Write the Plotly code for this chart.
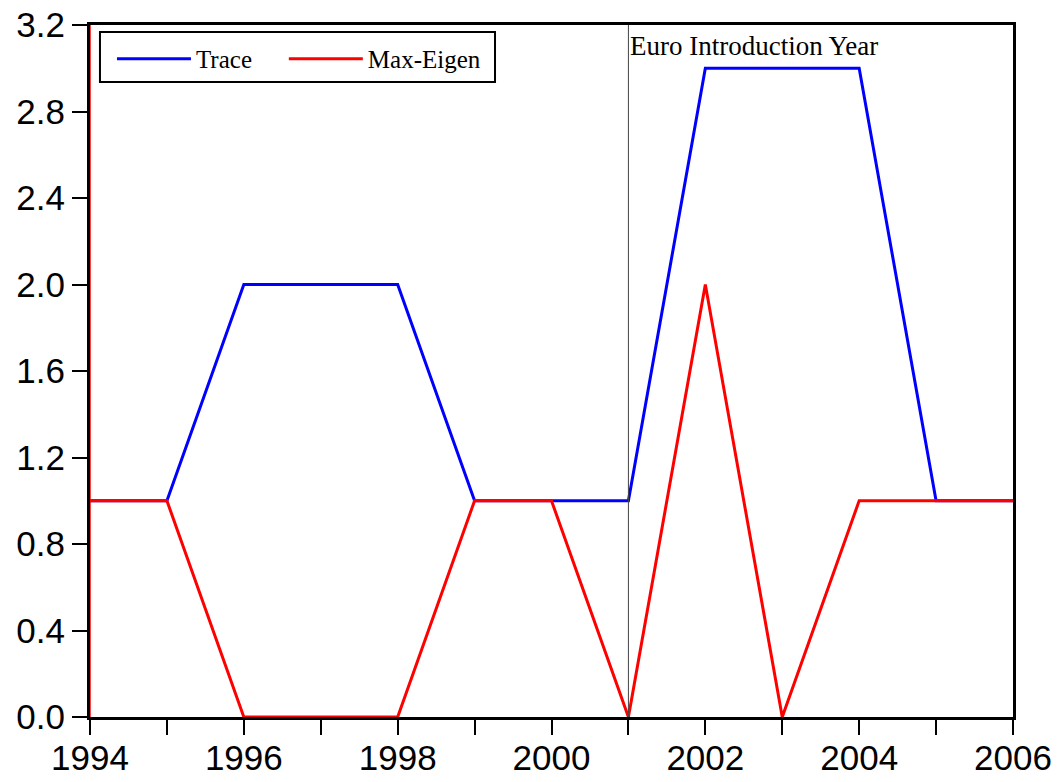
import plotly.graph_objects as go

years = list(range(1994, 2007))
trace_vals = [1, 1, 2, 2, 2, 1, 1, 1, 3, 3, 3, 1, 1]
maxeigen_vals = [1, 1, 0, 0, 0, 1, 1, 0, 2, 0, 1, 1, 1]
x_tickvals = [1994, 1996, 1998, 2000, 2002, 2004, 2006]
y_tickvals = [0.0, 0.4, 0.8, 1.2, 1.6, 2.0, 2.4, 2.8, 3.2]
euro_year = 2001

serif = "Liberation Serif, Times New Roman, serif"
sans = "Liberation Sans, Arial, sans-serif"

fig = go.Figure()
fig.add_trace(go.Scatter(x=years, y=trace_vals, mode="lines", name="Trace",
                         line=dict(color="#0000ff", width=3), legend="legend"))
fig.add_trace(go.Scatter(x=years, y=maxeigen_vals, mode="lines", name="Max-Eigen",
                         line=dict(color="#ff0000", width=3), legend="legend2"))

fig.add_shape(type="line", x0=1994, x1=1994, y0=0, y1=3.2, xref="x", yref="y",
              line=dict(color="#ff0000", width=1.5))
fig.add_shape(type="line", x0=euro_year, x1=euro_year, y0=0, y1=3.2, xref="x", yref="y",
              line=dict(color="#444444", width=1))
# legend frame
fig.add_shape(type="rect", xref="paper", yref="paper", x0=0.0108, x1=0.4388, y0=0.9176, y1=0.9899,
              line=dict(color="black", width=2), fillcolor="white", layer="above")
fig.add_annotation(x=euro_year, y=3.2, xref="x", yref="y", text="Euro Introduction Year",
                   showarrow=False, xanchor="left", yanchor="top", xshift=0, yshift=-4,
                   font=dict(family=serif, size=27, color="black"))

legend_common = dict(orientation="h", yanchor="middle", xanchor="left", borderwidth=0,
                     bgcolor="rgba(0,0,0,0)", itemwidth=74,
                     font=dict(family=serif, size=25, color="black"))

fig.update_layout(
    width=1056, height=774,
    margin=dict(l=82, r=51, t=17, b=65),
    paper_bgcolor="white", plot_bgcolor="white",
    showlegend=True,
    legend=dict(x=0.0238, y=0.951, **legend_common),
    legend2=dict(x=0.210, y=0.951, **legend_common),
    xaxis=dict(range=[1994, 2006], tickvals=x_tickvals, ticktext=[str(v) for v in x_tickvals],
               ticks="outside", ticklen=15, tickwidth=2, tickcolor="black",
               showline=True, linecolor="black", linewidth=3, mirror=True,
               showgrid=False, zeroline=False, automargin=False,
               ticklabeloverflow="allow", ticklabelstandoff=-7,
               tickfont=dict(family=sans, size=35, color="black"),
               minor=dict(dtick=1, ticks="outside", ticklen=15, tickwidth=2, tickcolor="black")),
    yaxis=dict(range=[0, 3.2], tickvals=y_tickvals, ticktext=[f"{v:.1f}" for v in y_tickvals],
               ticks="outside", ticklen=15, tickwidth=2, tickcolor="black",
               showline=True, linecolor="black", linewidth=3, mirror=True,
               showgrid=False, zeroline=False, automargin=False,
               ticklabeloverflow="allow",
               tickfont=dict(family=sans, size=35, color="black")),
)

fig.write_html("out.html")
